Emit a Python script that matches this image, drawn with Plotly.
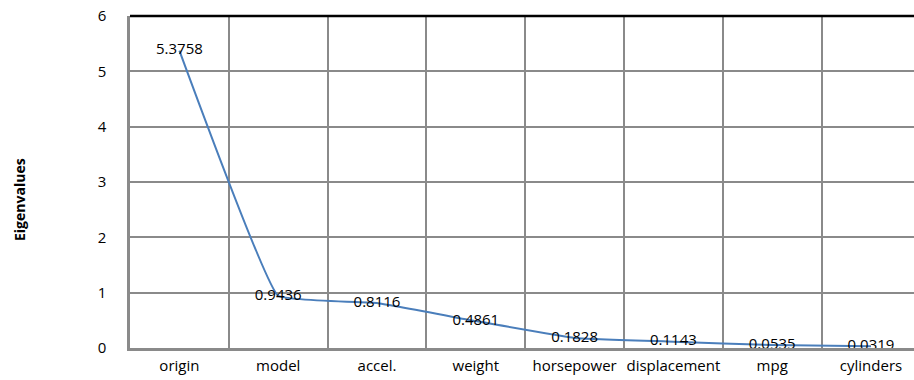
import plotly.graph_objects as go

# Scree plot: eigenvalue of each principal component, ordered by size
variables = ["origin", "model", "accel.", "weight", "horsepower",
             "displacement", "mpg", "cylinders"]
eigenvalues = [5.3758, 0.9436, 0.8116, 0.4861, 0.1828, 0.1143, 0.0535, 0.0319]
y_ticks = [0, 1, 2, 3, 4, 5, 6]

FONT = "Open Sans"
GRID = "#8a8a8a"

W, H = 914, 380
ML, MR, MT, MB = 130, 0, 16, 32
cat_px = 98.8  # width of one category band
x_hi = -0.5 + (W - ML - MR) / cat_px

fig = go.Figure()
fig.add_trace(go.Scatter(
    x=variables,
    y=eigenvalues,
    mode="lines+text",
    line=dict(color="#4a7ebb", width=2, shape="spline", smoothing=0.25),
    text=[f"{v:.4f}" for v in eigenvalues],
    textposition="middle center",
    textfont=dict(family=FONT, size=15, color="black"),
    cliponaxis=False,
    showlegend=False,
))

fig.update_layout(
    width=W, height=H,
    margin=dict(l=ML, r=MR, t=MT, b=MB, pad=0, autoexpand=False),
    paper_bgcolor="white",
    plot_bgcolor="white",
    font=dict(family=FONT, size=15, color="black"),
    xaxis=dict(
        type="category",
        categoryorder="array",
        categoryarray=variables,
        range=[-0.5, x_hi],
        tickson="boundaries",
        tickangle=0,
        automargin=False,
        showgrid=True, gridcolor=GRID, gridwidth=1.5,
        showline=True, linecolor=GRID, linewidth=2.5,
        ticks="", ticklabelstandoff=2,
        tickfont=dict(family=FONT, size=15, color="black"),
        zeroline=False,
    ),
    yaxis=dict(
        range=[0, 6],
        tickvals=y_ticks,
        automargin=False,
        showgrid=True, gridcolor=GRID, gridwidth=1.5,
        showline=True, linecolor=GRID, linewidth=2.5,
        ticks="", ticklabelstandoff=18,
        tickfont=dict(family=FONT, size=15, color="black"),
        zeroline=False,
    ),
    # black border along the top of the plot area
    shapes=[dict(
        type="line", xref="paper", yref="paper",
        x0=0, x1=1, y0=1, y1=1,
        line=dict(color="black", width=2.5),
        layer="above",
    )],
    annotations=[dict(
        text="<b>Eigenvalues</b>",
        textangle=-90,
        xref="paper", yref="paper",
        x=(19 - ML) / (W - ML - MR), y=(348 - 200) / (348 - MT),
        xanchor="center", yanchor="middle",
        showarrow=False,
        font=dict(family=FONT, size=14, color="black"),
    )],
)

fig.write_html("out.html")
